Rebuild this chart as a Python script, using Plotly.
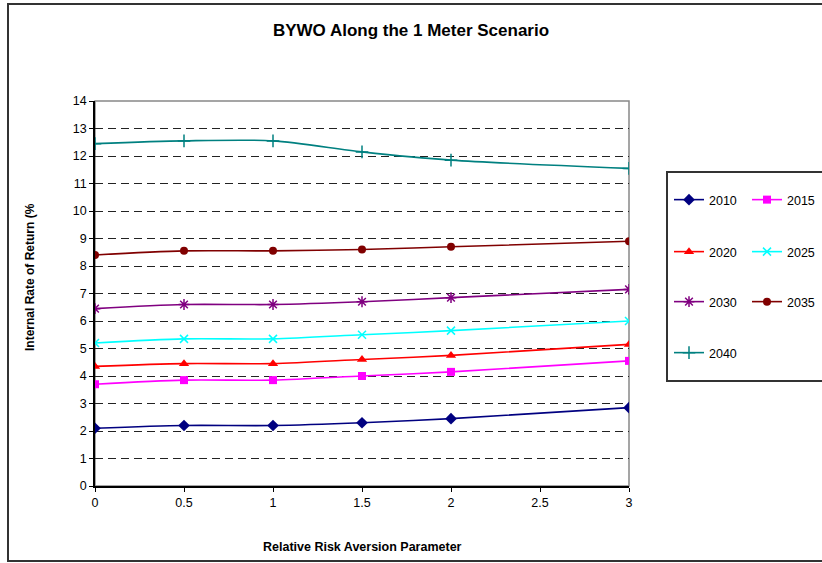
import plotly.graph_objects as go

# Relative risk aversion parameter values
x_vals = [0, 0.5, 1, 1.5, 2, 3]

# Internal rate of return (%) per starting year
irr_2010 = [2.1, 2.2, 2.2, 2.3, 2.45, 2.85]
irr_2015 = [3.7, 3.85, 3.85, 4.0, 4.15, 4.55]
irr_2020 = [4.35, 4.45, 4.45, 4.6, 4.75, 5.15]
irr_2025 = [5.2, 5.35, 5.35, 5.5, 5.65, 6.0]
irr_2030 = [6.45, 6.6, 6.6, 6.7, 6.85, 7.15]
irr_2035 = [8.4, 8.55, 8.55, 8.6, 8.7, 8.9]
irr_2040 = [12.45, 12.55, 12.55, 12.15, 11.85, 11.55]

x_ticks = [0, 0.5, 1, 1.5, 2, 2.5, 3]
y_ticks = list(range(0, 15))

FONT = "Liberation Sans, Arial, sans-serif"

# figure geometry (pixels)
W, H = 822, 563
L, R, T, B = 95, 629, 101, 486


def px_x(p):
    return (p - L) / (R - L)


def px_y(p):
    return (B - p) / (B - T)


series = [
    ("2010", irr_2010, "#000080", "diamond", 9, "legend"),
    ("2015", irr_2015, "#FF00FF", "square", 8, "legend"),
    ("2020", irr_2020, "#FF0000", "triangle-up", 9, "legend2"),
    ("2025", irr_2025, "#00FFFF", "x-thin", 8, "legend2"),
    ("2030", irr_2030, "#800080", "asterisk", 9, "legend3"),
    ("2035", irr_2035, "#800000", "circle", 8, "legend3"),
    ("2040", irr_2040, "#008080", "cross-thin", 9, "legend4"),
]

fig = go.Figure()
for name, ys, color, symbol, size, leg in series:
    thin = symbol in ("x-thin", "cross-thin", "asterisk")
    fig.add_trace(go.Scatter(
        x=x_vals, y=ys, name=name, mode="lines+markers",
        line=dict(color=color, width=1.6, shape="spline", smoothing=0.8),
        marker=dict(symbol=symbol, size=size, color=color,
                    line=dict(color=color, width=1.5 if thin else 0)),
        legend=leg,
    ))

# legend rows, positioned in container pixels so they do not push the margins
legend_rows = {"legend": 200, "legend2": 252, "legend3": 302, "legend4": 353}
legend_common = dict(
    orientation="h", xref="container", yref="container",
    x=669 / W, xanchor="left", yanchor="middle",
    bgcolor="rgba(0,0,0,0)", borderwidth=0,
    font=dict(family=FONT, size=12.5, color="#000"),
    entrywidth=33, entrywidthmode="pixels", itemwidth=30,
)
legend_layout = {k: dict(legend_common, y=1 - v / H) for k, v in legend_rows.items()}

shapes = [
    # outer chart frame
    dict(type="rect", xref="paper", yref="paper",
         x0=px_x(8), x1=px_x(832), y0=px_y(561), y1=px_y(4),
         line=dict(color="#333", width=2), layer="below"),
    # plot area frame
    dict(type="rect", xref="paper", yref="paper", x0=0, x1=1, y0=0, y1=1,
         line=dict(color="#888", width=1.5), layer="below"),
    # legend frame
    dict(type="rect", xref="paper", yref="paper",
         x0=px_x(667), x1=px_x(832), y0=px_y(381), y1=px_y(172),
         line=dict(color="#333", width=2), layer="below"),
]

annotations = [
    dict(text="<b>Relative Risk Aversion Parameter</b>", xref="paper", yref="paper",
         x=0.5, y=px_y(547), xanchor="center", yanchor="middle", showarrow=False,
         font=dict(family=FONT, size=12.5, color="#000")),
    dict(text="<b>Internal Rate of Return (%</b>", xref="paper", yref="paper",
         x=px_x(30), y=px_y(277), xanchor="center", yanchor="middle", showarrow=False,
         textangle=-90, font=dict(family=FONT, size=12, color="#000")),
]

fig.update_layout(
    width=W, height=H,
    margin=dict(l=L, r=W - R, t=T, b=H - B, autoexpand=False),
    paper_bgcolor="white", plot_bgcolor="white",
    title=dict(text="<b>BYWO Along the 1 Meter Scenario</b>", x=0.5, xanchor="center",
               xref="container", y=1 - 30 / H, yref="container", yanchor="middle",
               font=dict(family=FONT, size=17, color="#000")),
    font=dict(family=FONT, size=12.5, color="#000"),
    showlegend=True,
    shapes=shapes,
    annotations=annotations,
    xaxis=dict(range=[0, 3], tickvals=x_ticks, ticktext=[str(t) for t in x_ticks],
               showgrid=False, zeroline=False, showline=True, linecolor="#000",
               linewidth=1.5, ticks="outside", ticklen=4, tickcolor="#000",
               tickfont=dict(family=FONT, size=12.5, color="#000")),
    yaxis=dict(range=[0, 14], tickvals=y_ticks, showgrid=True, gridcolor="#222",
               griddash="8px,5px", gridwidth=1, zeroline=False, showline=True,
               linecolor="#000", linewidth=1.5, ticks="outside", ticklen=4,
               tickcolor="#000", tickfont=dict(family=FONT, size=12.5, color="#000")),
    **legend_layout,
)

fig.write_html("out.html")
